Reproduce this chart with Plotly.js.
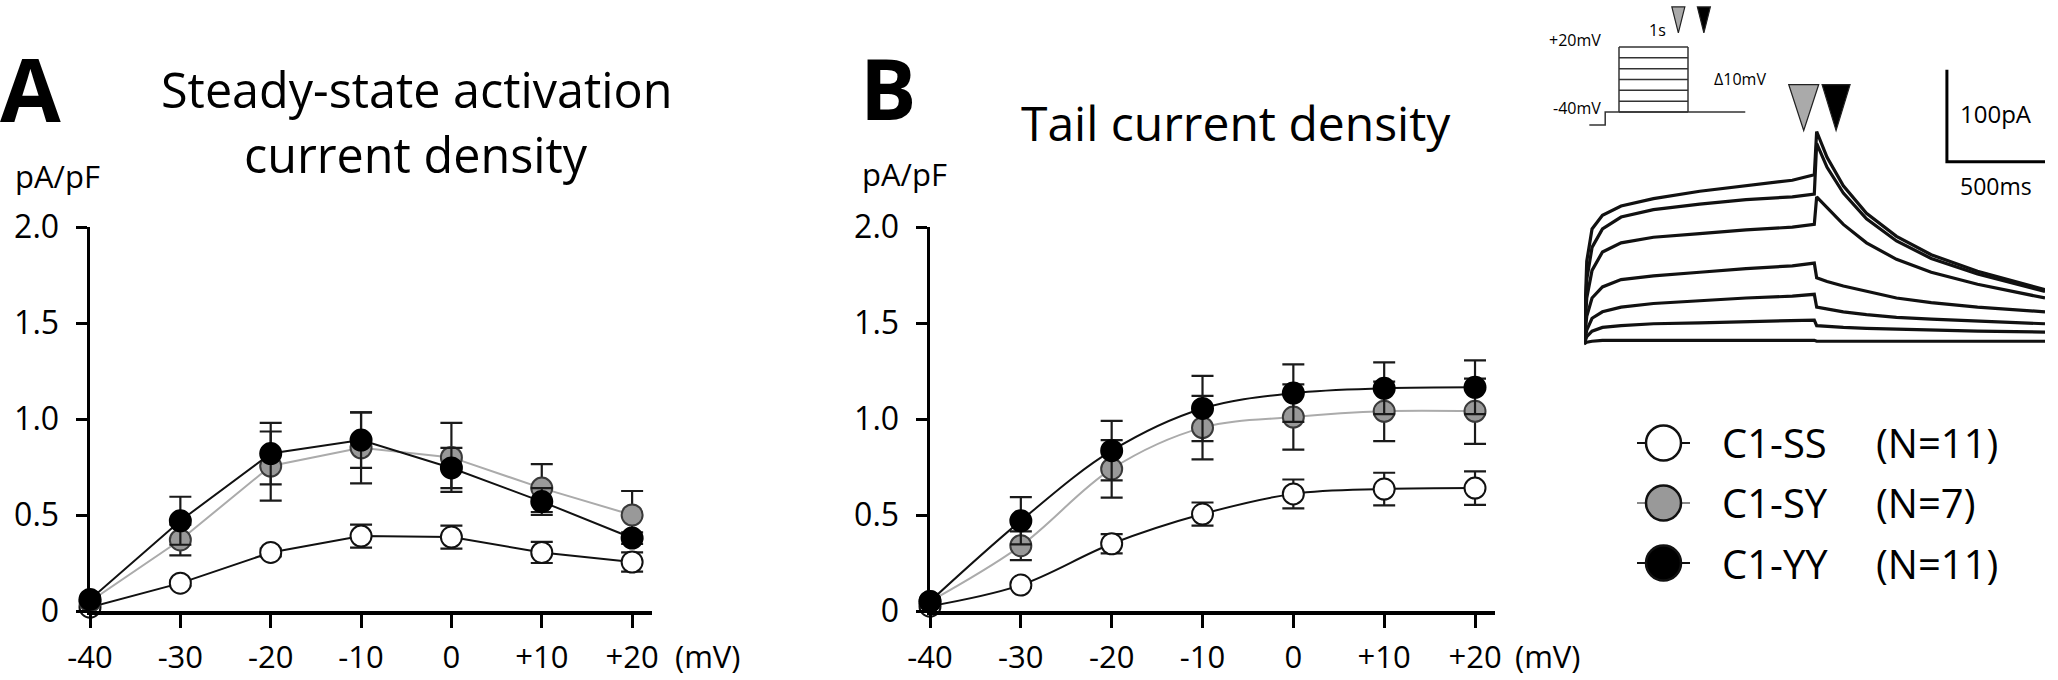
<!DOCTYPE html>
<html><head><meta charset="utf-8">
<script src="https://cdn.plot.ly/plotly-3.0.1.min.js"></script>
<style>html,body{margin:0;padding:0;background:#fff}#chart{width:2058px;height:680px}</style>
</head><body><div id="chart"></div>
<script>
// ---------- data ----------
const voltages = [-40, -30, -20, -10, 0, 10, 20];
const xTickText = ["-40", "-30", "-20", "-10", "0", "+10", "+20"];
const yTickVals = [0, 0.5, 1, 1.5, 2];
const yTickText = ["0", "0.5", "1.0", "1.5", "2.0"];
const seriesNames = ["C1-SS", "C1-SY", "C1-YY"];
const seriesN = ["(N=11)", "(N=7)", "(N=11)"];

// Panel A: steady-state activation current density (pA/pF)
const ssA    = [0.02, 0.145, 0.305, 0.39, 0.385, 0.305, 0.255];
const ssAerr = [0.01, 0.015, 0.02, 0.06, 0.06, 0.055, 0.05];
const syA    = [0.05, 0.37, 0.755, 0.85, 0.80, 0.64, 0.50];
const syAerr = [0.02, 0.08, 0.18, 0.185, 0.18, 0.125, 0.125];
const yyA    = [0.06, 0.47, 0.82, 0.89, 0.745, 0.57, 0.38];
const yyAerr = [0.02, 0.125, 0.16, 0.145, 0.105, 0.07, 0.03];

// Panel B: tail current density (pA/pF)
const ssB    = [0.025, 0.135, 0.35, 0.505, 0.61, 0.635, 0.64];
const ssBerr = [0.01, 0.015, 0.05, 0.06, 0.075, 0.085, 0.087];
const syB    = [0.05, 0.34, 0.74, 0.955, 1.01, 1.04, 1.04];
const syBerr = [0.02, 0.075, 0.15, 0.165, 0.17, 0.155, 0.17];
const yyB    = [0.05, 0.47, 0.835, 1.055, 1.135, 1.16, 1.165];
const yyBerr = [0.02, 0.123, 0.155, 0.17, 0.15, 0.135, 0.14];

// Inset: example current traces (time ms, current pA)
const tInset   = [0, 14, 41, 94, 189, 354, 590, 826, 1062, 1174, 1186, 1239, 1322, 1440, 1593, 1770, 2006, 2350];
const traceP20 = [0, 90, 125, 140, 150, 158, 166, 172, 178, 184, 231, 203, 172, 142, 117, 97, 79, 59];
const traceP10 = [0, 70, 105, 125, 138, 146, 152, 157, 160, 163, 218, 192, 164, 136, 112, 93, 76, 57];
const trace0   = [0, 50, 80, 100, 110, 116, 120, 124, 127, 130, 160, 148, 130, 110, 92, 78, 65, 50];
const traceM10 = [0, 30, 50, 62, 70, 74, 78, 82, 85, 88, 72, 68, 63, 57, 50, 45, 40, 35];
const traceM20 = [0, 15, 28, 35, 40, 44, 47, 50, 52, 54, 40, 38, 35, 32, 29, 27, 25, 22];
const traceM30 = [0, 8, 14, 18, 20, 22, 23, 24, 25, 26, 20, 19, 18, 17, 16, 15, 14, 13];
const traceM40 = [0, 2, 3, 4, 4, 4, 4, 4, 4, 4, 3, 3, 3, 3, 3, 3, 3, 3];
const insetTraces = [traceP20, traceP10, trace0, traceM10, traceM20, traceM30, traceM40];
const scaleBarTime = 500;    // ms
const scaleBarCurrent = 100; // pA
const scaleBarBase = 198;    // pA level of the horizontal bar

// Protocol: 1 s steps from -40 to +20 mV in 10 mV increments
const stepLevels = [-40, -30, -20, -10, 0, 10, 20];
const stepDuration = 1000;
const holdLevel = -40;
const preLevel = -52;
const preStart = -430, preStep = -200, protocolEnd = 1830;
const markerTimes = [860, 1230];      // grey / black arrowheads on the protocol
const tailMarkerTimes = [1120, 1285]; // grey / black arrowheads over the traces

// ---------- layout helpers ----------
const W = 2058, H = 680;
const px = v => v / W;
const py = v => 1 - v / H;
const FONT = "Open Sans, Noto Sans, DejaVu Sans, sans-serif";

const fill = ["#ffffff", "#999999", "#000000"];
const lineCol = ["#111111", "#ababab", "#111111"];
const edgeCol = ["#111111", "#3a3a3a", "#000000"];

function series(xa, ya, yv, err, i, spline) {
  return {
    type: "scatter", mode: "lines+markers", x: voltages, y: yv,
    xaxis: xa, yaxis: ya, cliponaxis: false, showlegend: false,
    line: {color: lineCol[i], width: 2, shape: spline ? "spline" : "linear", smoothing: 1},
    marker: {size: 21, color: fill[i], line: {color: edgeCol[i], width: 2}},
    error_y: {type: "data", array: err, visible: true, color: "#1a1a1a", thickness: 2.2, width: 11},
    hoverinfo: "skip"
  };
}

const data = [];
[[ssA, ssAerr], [syA, syAerr], [yyA, yyAerr]].forEach((s, i) => data.push(series("x", "y", s[0], s[1], i, false)));
[[ssB, ssBerr], [syB, syBerr], [yyB, yyBerr]].forEach((s, i) => data.push(series("x2", "y2", s[0], s[1], i, true)));

const lineTrace = (xa, ya, x, y, color, width) => ({
  type: "scatter", mode: "lines", x: x, y: y, xaxis: xa, yaxis: ya,
  line: {color: color, width: width}, showlegend: false, hoverinfo: "skip", cliponaxis: false
});

// inset traces
insetTraces.forEach(tr => data.push(lineTrace("x3", "y3", tInset, tr, "#111", 3.2)));
// scale bar
const tEnd = tInset[tInset.length - 1];
data.push(lineTrace("x3", "y3",
  [tEnd - scaleBarTime, tEnd - scaleBarTime, tEnd],
  [scaleBarBase + scaleBarCurrent, scaleBarBase, scaleBarBase], "#000", 3));

// protocol
const topLevel = stepLevels[stepLevels.length - 1];
stepLevels.forEach(v => data.push(lineTrace("x4", "y4", [0, stepDuration], [v, v], "#333", 1.5)));
data.push(lineTrace("x4", "y4", [0, 0], [holdLevel, topLevel], "#333", 1.5));
data.push(lineTrace("x4", "y4", [stepDuration, stepDuration], [holdLevel, topLevel], "#333", 1.5));
data.push(lineTrace("x4", "y4", [preStart, preStep, preStep, protocolEnd], [preLevel, preLevel, holdLevel, holdLevel], "#333", 1.5));

// legend glyphs
seriesNames.forEach((n, i) => {
  data.push(lineTrace("x5", "y5", [-1, 1], [i, i], i === 1 ? "#8a8a8a" : "#111", 2));
  data.push({type: "scatter", mode: "markers", x: [0], y: [i], xaxis: "x5", yaxis: "y5", showlegend: false,
    hoverinfo: "skip", cliponaxis: false, marker: {size: 35, color: fill[i], line: {color: "#111", width: 2.5}}});
});

function mainX(d0, d1) {
  return {domain: [px(d0), px(d1)], range: [-40, 22.2], tickvals: voltages, ticktext: xTickText,
    ticks: "outside", ticklen: 13, tickwidth: 3, tickcolor: "#000", showline: true, linewidth: 3.5, linecolor: "#000",
    showgrid: false, zeroline: false, fixedrange: true, ticklabelstandoff: 3,
    tickfont: {family: FONT, size: 31, color: "#000"}};
}
function mainY(anchor) {
  return {domain: [py(611), py(227)], range: [0, 2], tickvals: yTickVals, ticktext: yTickText, anchor: anchor,
    ticks: "outside", ticklen: 11, tickwidth: 3, tickcolor: "#000", showline: true, linewidth: 3.5, linecolor: "#000",
    showgrid: false, zeroline: false, fixedrange: true, ticklabelstandoff: 10,
    tickfont: {family: FONT, size: 32, color: "#000"}};
}
const hidden = (extra) => Object.assign({visible: false, showgrid: false, zeroline: false, fixedrange: true}, extra);

// inset pixel mapping
const ix0 = 1584, ix1 = 2045;
const pxPerPA = 0.92, baseY = 344;
const iyTop = 60, iyBot = 355;
// protocol pixel mapping
const pBoxL = 1619, pBoxR = 1688, pTop = 47, pBot = 112;
const pxPerMs = (pBoxR - pBoxL) / stepDuration;
const pxPerMV = (pBot - pTop) / (topLevel - holdLevel);

const ann = (text, x, y, size, anchor, extra) => Object.assign({text: text, x: px(x), y: py(y), xref: "paper", yref: "paper",
  xanchor: anchor || "left", yanchor: "middle", showarrow: false, font: {size: size, family: FONT, color: "#000"}}, extra || {});

const annotations = [
  ann("<b>A</b>", -2, 88, 88),
  ann("<b>B</b>", 858, 88, 84),
  ann("Steady-state activation", 416, 89, 48.5, "center"),
  ann("current density", 416, 154, 48.5, "center"),
  ann("Tail current density", 1236, 122, 48, "center"),
  ann("pA/pF", 13, 176, 31),
  ann("pA/pF", 860, 174, 31),
  ann("(mV)", 673, 656, 31),
  ann("(mV)", 1513, 656, 31),
  ann("100pA", 1958, 114, 24),
  ann("500ms", 1958, 186, 23),
  ann("+20mV", 1603, 40, 16, "right"),
  ann("-40mV", 1603, 108, 16, "right"),
  ann("1s", 1647, 30, 16),
  ann("Δ10mV", 1712, 79, 16)
];
seriesNames.forEach((n, i) => {
  annotations.push({text: n, xref: "paper", yref: "y5", x: px(1720), y: i, xanchor: "left", yanchor: "middle", showarrow: false,
    font: {size: 40, family: FONT, color: "#000"}});
  annotations.push({text: seriesN[i], xref: "paper", yref: "y5", x: px(1874), y: i, xanchor: "left", yanchor: "middle", showarrow: false,
    font: {size: 40, family: FONT, color: "#000"}});
});

function tri(xref, yref, xa, ya, w, h, color) {
  return {type: "path", xref: xref, yref: yref, xsizemode: "pixel", ysizemode: "pixel", xanchor: xa, yanchor: ya,
    path: `M${-w/2},${h} L${w/2},${h} L0,0 Z`, fillcolor: color, line: {color: "#222", width: 1.2}, layer: "above"};
}
const shapes = [
  tri("x3", "y3", tailMarkerTimes[0], 232, 30, 46, "#aaaaaa"),
  tri("x3", "y3", tailMarkerTimes[1], 232, 28, 46, "#000000"),
  tri("x4", "y4", markerTimes[0], 33, 13, 26, "#aaaaaa"),
  tri("x4", "y4", markerTimes[1], 33, 13, 26, "#000000")
];

const layout = {
  width: W, height: H, margin: {l: 0, r: 0, t: 0, b: 0},
  paper_bgcolor: "#fff", plot_bgcolor: "rgba(0,0,0,0)", showlegend: false,
  font: {family: FONT, color: "#000"},
  xaxis: Object.assign(mainX(90, 652), {anchor: "y"}), yaxis: mainY("x"),
  xaxis2: Object.assign(mainX(930, 1495), {anchor: "y2"}), yaxis2: mainY("x2"),
  xaxis3: hidden({domain: [px(ix0), px(ix1)], range: [0, tEnd], anchor: "y3"}),
  yaxis3: hidden({domain: [py(iyBot), py(iyTop)], range: [-(iyBot - baseY) / pxPerPA, (baseY - iyTop) / pxPerPA], anchor: "x3"}),
  xaxis4: hidden({domain: [px(1570), px(1770)], range: [(1570 - pBoxL) / pxPerMs, (1770 - pBoxL) / pxPerMs], anchor: "y4"}),
  yaxis4: hidden({domain: [py(140), py(0)], range: [holdLevel - (140 - pBot) / pxPerMV, topLevel + pTop / pxPerMV], anchor: "x4"}),
  xaxis5: hidden({domain: [px(1637), px(1690)], range: [-1, 1], anchor: "y5"}),
  yaxis5: hidden({domain: [py(593), py(413)], range: [2.5, -0.5], anchor: "x5"}),
  annotations: annotations, shapes: shapes
};

Plotly.newPlot("chart", data, layout, {staticPlot: true, displayModeBar: false});
</script></body></html>
